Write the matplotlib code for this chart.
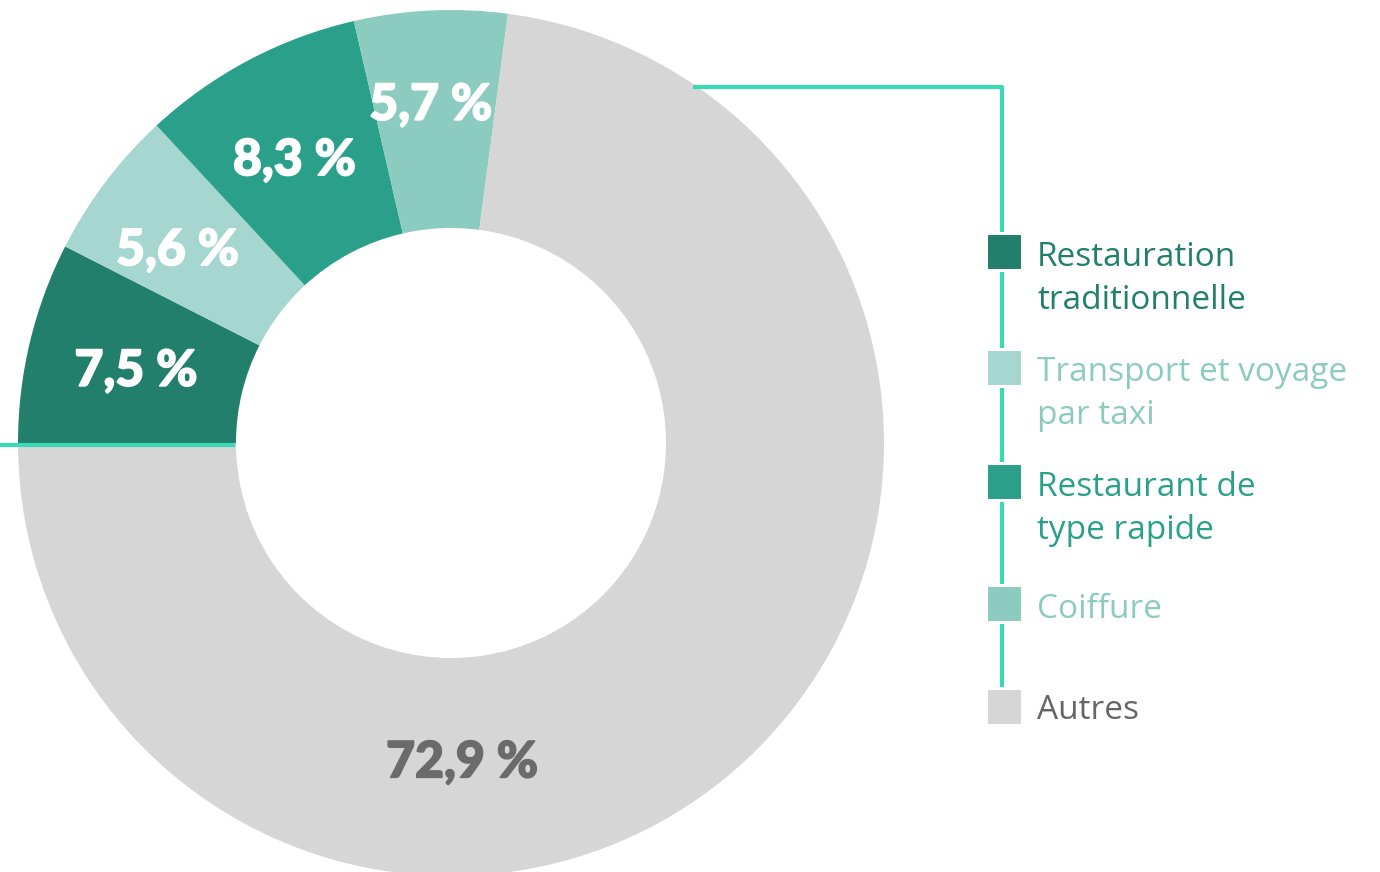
import matplotlib
matplotlib.use("Agg")
import matplotlib.pyplot as plt
import matplotlib.patheffects as pe
from matplotlib.patches import Rectangle
import numpy as np

plt.rcParams['font.family'] = ['Open Sans', 'DejaVu Sans']

# data
categories = ['Restauration\ntraditionnelle', 'Transport et voyage\npar taxi',
              'Restaurant de\ntype rapide', 'Coiffure', 'Autres']
values = [7.5, 5.6, 8.3, 5.7, 72.9]
labels = ['7,5 %', '5,6 %', '8,3 %', '5,7 %', '72,9 %']
colors = ['#217f6c', '#a5d6d0', '#2aa08a', '#8ccbc0', '#d6d6d6']
text_colors = ['#217f6c', '#8ccbc0', '#2aa08a', '#8ccbc0', '#666666']
accent = '#3bd8b6'

W, H = 1380, 872
fig = plt.figure(figsize=(W / 100, H / 100), dpi=100)
ax = fig.add_axes([0, 0, 1, 1])

cx, cy = 451, H - 443
r_out, r_in = 433, 215

wedges, _ = ax.pie(values, colors=colors, startangle=180, counterclock=False,
                   radius=r_out, center=(cx, cy),
                   wedgeprops=dict(width=r_out - r_in, linewidth=0))

# labels on the ring (small nudges to sit like the original)
r_mid = (r_out + r_in) / 2
nudge = [(0, -4), (-15, -3), (-5, -4), (-5, 14), (0, 0)]
cum = 0
for i, v in enumerate(values):
    mid = cum + v / 2
    cum += v
    ang = np.deg2rad(180 - mid / 100 * 360)
    rr = r_mid
    if i == len(values) - 1:
        ang = np.deg2rad(-88)
        rr = 320
    x = cx + rr * np.cos(ang) + nudge[i][0]
    y = cy + rr * np.sin(ang) + nudge[i][1]
    col = '#6b6b6b' if i == len(values) - 1 else 'white'
    ax.text(x, y, labels[i], color=col, fontsize=36, fontweight='black',
            family=['Lato', 'DejaVu Sans'], ha='center', va='center',
            path_effects=[pe.withStroke(linewidth=1.2, foreground=col)])

# connector lines
ax.plot([0, 235], [H - 445, H - 445], color=accent, lw=3, solid_capstyle='butt', zorder=3)
ax.plot([693, 1002, 1002], [H - 87, H - 87, H - 706], color=accent, lw=3,
        solid_capstyle='butt', zorder=3)

# legend
sq_top = [236, 352, 466, 587, 690]
baselines = [[266, 309], [381, 424], [496, 539], [618], [719]]
for i, cat in enumerate(categories):
    ax.add_patch(Rectangle((985.5, H - sq_top[i] - 34.5), 36, 37, facecolor=colors[i],
                           edgecolor='white', lw=2.2, zorder=4))
    for j, ln in enumerate(cat.split('\n')):
        ax.text(1037, H - baselines[i][j], ln, color=text_colors[i], fontsize=24,
                ha='left', va='baseline')

ax.set_xlim(0, W)
ax.set_ylim(0, H)
ax.set_aspect('equal')
ax.axis('off')

fig.savefig('out.png', dpi=100)
